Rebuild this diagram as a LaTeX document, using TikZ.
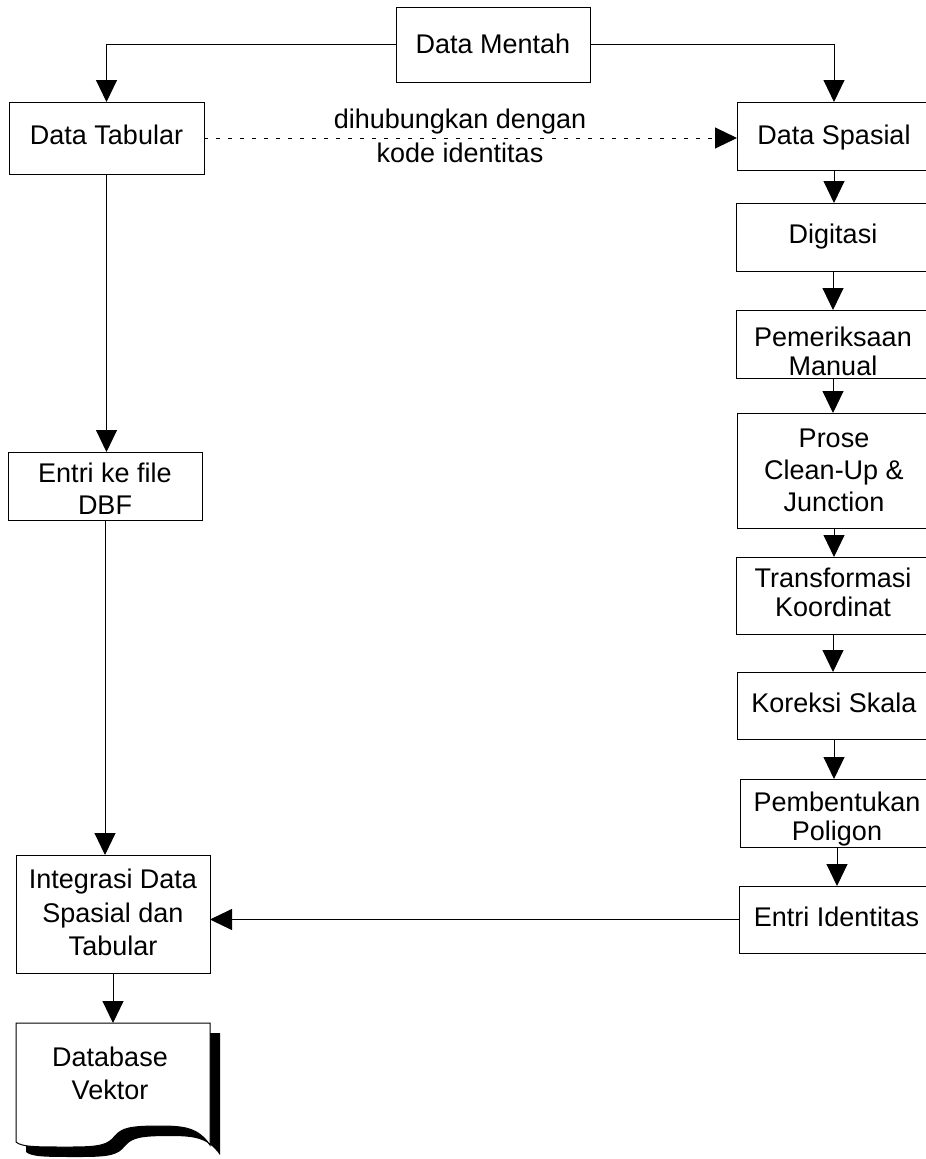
\documentclass[tikz,border=0pt]{standalone}
\usepackage{fontspec}
\setmainfont{Liberation Sans}
\usetikzlibrary{arrows.meta,calc}
\begin{document}
\begin{tikzpicture}[x=1pt,y=-1pt,
  box/.style={draw, line width=1pt, minimum width=194pt, inner sep=0pt, outer sep=0pt},
  txt/.style={align=center, inner sep=0pt, font=\fontsize{27}{31}\selectfont},
  arr/.style={line width=1pt, -{Triangle[length=22pt,width=21pt]}},
  dotarr/.style={arr, dash pattern=on 4pt off 8pt}]
\useasboundingbox (0,0) rectangle (926,1159);
\clip (0,0) rectangle (926,1159);

% boxes
\node[box, minimum height=75pt] (mentah) at (493,44.5) {};
\node[box, minimum width=195pt, minimum height=72pt] (tabular) at (106.5,138) {};
\node[box, minimum height=68pt] (spasial) at (834,136) {};
\node[box, minimum height=68pt] (digit) at (833,237) {};
\node[box, minimum height=68pt] (pem) at (833,344) {};
\node[box, minimum height=115pt] (prose) at (834,470.5) {};
\node[box, minimum height=77pt] (trans) at (833,595.5) {};
\node[box, minimum height=67pt] (kor) at (834,705.5) {};
\node[box, minimum height=68pt] (pemb) at (837,813) {};
\node[box, minimum height=67pt] (entid) at (836.5,919.5) {};
\node[box, minimum height=68pt] (dbf) at (105,486) {};
\node[box, minimum height=118pt] (integ) at (113,914) {};
\node[inner sep=0pt, outer sep=0pt, minimum width=194pt, minimum height=122pt] (db) at (113,1084) {};

% document shape (shadow + body)
\fill[black, shift={(10,10)}] (16,1023) -- (210,1023) -- (210,1145)
  .. controls (198,1128) and (185,1126) .. (160,1126)
  .. controls (130,1126) and (122,1128) .. (115,1136)
  .. controls (108,1145) and (100,1147) .. (70,1147)
  .. controls (35,1147) and (22,1147) .. (16,1142) -- cycle;
\filldraw[fill=white, line width=1pt] (16,1023) -- (210,1023) -- (210,1145)
  .. controls (198,1128) and (185,1126) .. (160,1126)
  .. controls (130,1126) and (122,1128) .. (115,1136)
  .. controls (108,1145) and (100,1147) .. (70,1147)
  .. controls (35,1147) and (22,1147) .. (16,1142) -- cycle;

% texts
\node[txt] (mentah-t) at (493,43.5) {Data Mentah};
\node[txt] (tabular-t) at (106.5,135) {Data Tabular};
\node[txt] (spasial-t) at (834,138) {Data Spasial};
\node[txt] (digit-t) at (833,237) {Digitasi};
\node[txt, font=\fontsize{27}{29}\selectfont] (pem-t) at (833,351.5) {Pemeriksaan\\Manual};
\node[txt, font=\fontsize{27}{32}\selectfont] (prose-t) at (834,470.5) {Prose\\Clean-Up \&\\Junction};
\node[txt, font=\fontsize{27}{29}\selectfont] (trans-t) at (833,592) {Transformasi\\Koordinat};
\node[txt] (kor-t) at (834,703) {Koreksi Skala};
\node[txt, font=\fontsize{27}{28.5}\selectfont] (pemb-t) at (837,819) {Pembentukan\\Poligon};
\node[txt] (entid-t) at (836.5,917) {Entri Identitas};
\node[txt, font=\fontsize{27}{32}\selectfont] (dbf-t) at (105,489) {Entri ke file\\DBF};
\node[txt, font=\fontsize{27}{33.5}\selectfont] (integ-t) at (113,912.5) {Integrasi Data\\Spasial dan\\Tabular};
\node[txt, font=\fontsize{27}{33}\selectfont] (db-t) at (110,1073) {Database\\Vektor};
\node[txt, font=\fontsize{27}{34}\selectfont] (link-t) at (460,135.5) {dihubungkan dengan\\kode identitas};

% connectors
\draw[arr] (mentah.west) -| (tabular.north);
\draw[arr] (mentah.east) -| (spasial.north);
\draw[dotarr] (tabular.east) -- (tabular.east -| spasial.west);
\draw[arr] (spasial.south) -- (spasial.south |- digit.north);
\draw[arr] (digit.south) -- (digit.south |- pem.north);
\draw[arr] (pem.south) -- (pem.south |- prose.north);
\draw[arr] (prose.south) -- (prose.south |- trans.north);
\draw[arr] (trans.south) -- (trans.south |- kor.north);
\draw[arr] (kor.south) -- (kor.south |- pemb.north);
\draw[arr] (pemb.south) -- (pemb.south |- entid.north);
\draw[arr] (entid.west) -- (entid.west -| integ.east);
\draw[arr] (tabular.south) -- (tabular.south |- dbf.north);
\draw[arr] (dbf.south) -- (dbf.south |- integ.north);
\draw[arr] (integ.south) -- (integ.south |- db.north);
\end{tikzpicture}
\end{document}
